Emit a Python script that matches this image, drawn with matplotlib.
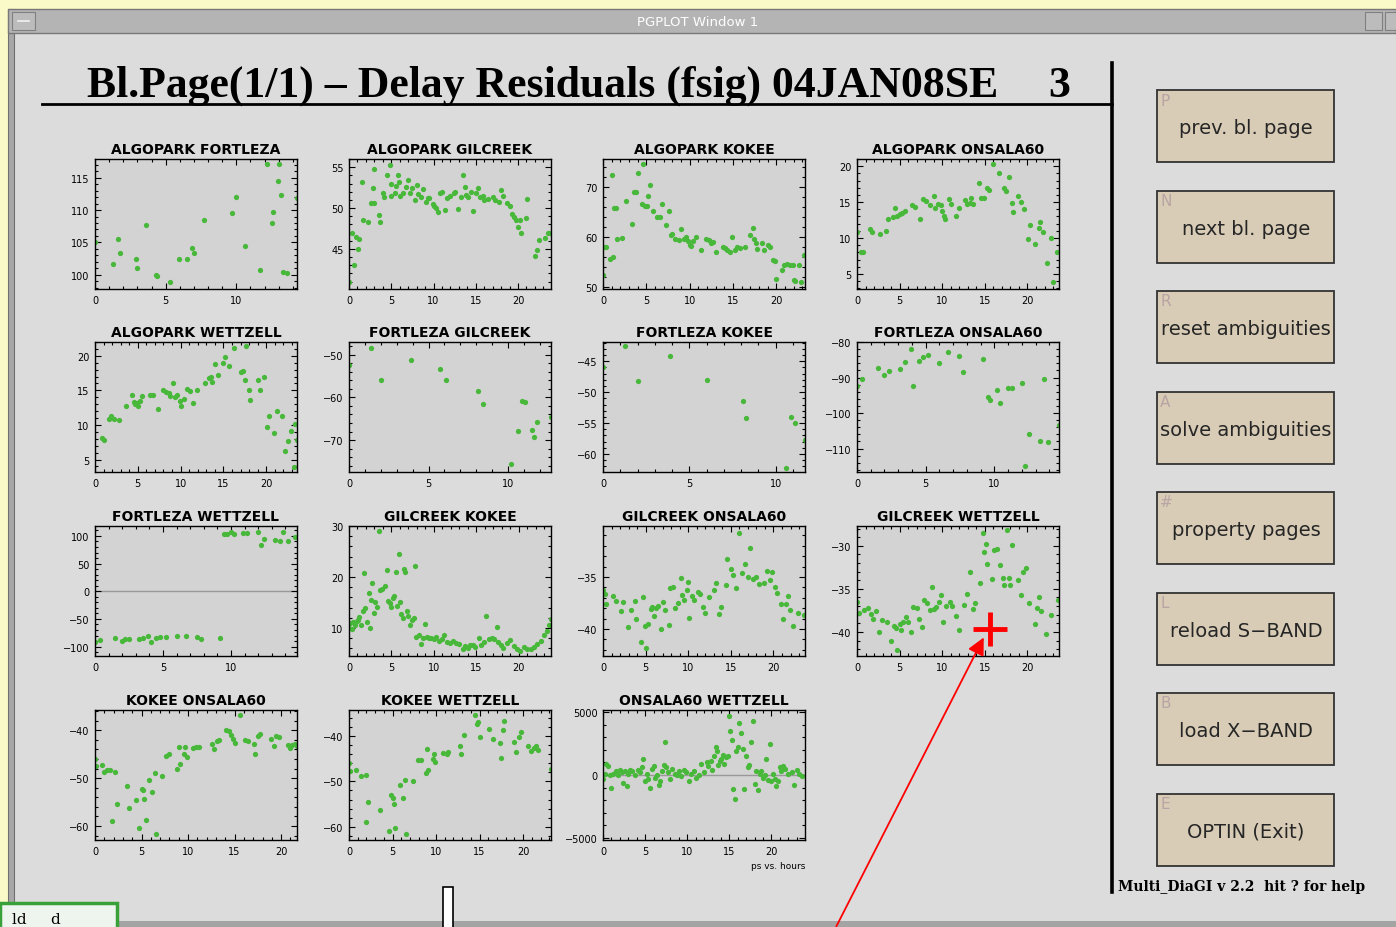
import matplotlib.pyplot as plt
from matplotlib.patches import Rectangle
from matplotlib.ticker import MultipleLocator

# ---- residuals per baseline: hours since session start, delay residual (ps) ----
algopark_fortleza_t = [0.0, 1.26, 1.6, 1.8, 2.9, 3.0, 3.6, 4.3, 4.4, 5.3, 5.95, 6.5, 6.9, 7.0,
                       7.7, 9.7, 9.98, 10.6, 11.7, 12.2, 12.5, 12.6, 12.95, 13.0, 13.2, 13.3, 13.6, 14.3]
algopark_fortleza_ps = [105.0, 101.7, 105.5, 103.3, 102.5, 101.1, 107.7, 99.95, 99.8, 98.9, 102.5, 102.5,
                        104.2, 103.3, 108.5, 109.6, 112.0, 104.5, 100.8, 117.2, 108.0, 109.7, 114.5,
                        117.2, 112.3, 100.5, 100.2, 111.8]

algopark_gilcreek_t = [0.0, 0.3, 0.6, 0.8, 1.1, 1.2, 1.5, 1.6, 2.2, 2.6, 2.8, 2.9, 3.0, 3.5, 3.7, 4.0,
                       4.1, 4.5, 4.9, 5.0, 5.0, 5.4, 5.6, 5.8, 5.9, 6.0, 6.4, 6.7, 7.0, 7.2, 7.5, 7.8,
                       8.0, 8.2, 8.5, 8.8, 9.1, 9.3, 9.5, 9.9, 10.1, 10.3, 10.5, 10.8, 11.0, 11.3, 11.6,
                       12.0, 12.4, 12.6, 12.9, 13.2, 13.5, 13.7, 13.9, 14.1, 14.4, 14.7, 15.0, 15.3,
                       15.5, 15.8, 16.0, 16.4, 17.0, 17.3, 17.7, 18.0, 18.2, 18.7, 19.0, 19.3, 19.5,
                       19.7, 20.0, 20.2, 20.4, 20.9, 21.1, 22.0, 22.2, 22.5, 23.2, 23.6, 23.8]
algopark_gilcreek_ps = [41.0, 47.0, 43.0, 46.5, 45.0, 46.2, 53.2, 48.5, 48.3, 50.6, 52.5, 54.8, 50.6,
                        49.2, 48.3, 51.8, 51.4, 54.1, 55.3, 51.5, 52.9, 51.8, 52.7, 54.1, 53.2, 51.5,
                        51.8, 52.6, 53.4, 51.9, 52.4, 51.0, 52.8, 51.7, 51.3, 52.3, 50.8, 51.2, 51.2,
                        50.5, 50.2, 50.0, 49.5, 51.8, 52.0, 49.8, 51.2, 51.5, 51.8, 52.0, 49.9, 51.4,
                        54.0, 52.6, 51.6, 51.3, 52.0, 49.7, 51.8, 52.5, 51.3, 51.5, 51.0, 51.1, 51.3,
                        51.0, 50.8, 52.2, 51.5, 50.6, 50.3, 49.3, 48.9, 48.5, 47.7, 48.6, 47.0, 48.8,
                        51.1, 44.1, 44.9, 46.1, 46.3, 46.9, 47.0]

algopark_kokee_t = [0.0, 0.2, 0.4, 0.8, 1.0, 1.1, 1.3, 1.5, 1.6, 2.2, 2.6, 3.3, 3.6, 3.8, 4.0, 4.5,
                    4.6, 4.8, 5.1, 5.2, 5.4, 5.8, 6.2, 6.6, 6.8, 7.3, 7.6, 7.8, 8.0, 8.3, 8.8, 9.0,
                    9.3, 9.6, 9.8, 10.0, 10.2, 10.4, 10.7, 11.3, 11.9, 12.2, 12.5, 12.7, 13.0, 13.8,
                    14.1, 14.3, 14.6, 14.9, 15.2, 15.5, 15.8, 16.4, 17.0, 17.3, 17.4, 17.6, 17.8,
                    18.3, 18.6, 19.0, 19.3, 19.6, 19.8, 20.0, 20.6, 20.9, 21.2, 21.6, 21.9, 22.0,
                    22.2, 22.6, 22.8, 23.2]
algopark_kokee_ps = [52.5, 58.0, 58.0, 55.7, 72.4, 56.0, 65.8, 65.8, 59.7, 59.8, 67.3, 62.6, 69.1,
                     69.0, 72.9, 66.7, 74.6, 66.2, 66.3, 68.3, 70.5, 65.2, 64.1, 64.1, 66.6, 62.5,
                     65.3, 60.5, 60.7, 59.6, 59.5, 61.6, 59.6, 60.0, 59.2, 58.5, 58.3, 59.2, 60.0,
                     57.5, 59.6, 59.4, 58.8, 59.1, 57.0, 58.1, 57.9, 57.4, 57.0, 60.0, 57.5, 58.0,
                     57.9, 58.1, 60.5, 61.8, 59.6, 58.9, 57.6, 58.8, 57.5, 58.4, 58.1, 55.5, 55.3,
                     51.7, 53.5, 54.5, 54.6, 54.5, 54.5, 51.5, 51.2, 54.4, 51.0, 56.5]

algopark_onsala60_t = [0.0, 0.5, 0.7, 1.5, 1.8, 2.7, 3.4, 3.6, 4.2, 4.4, 4.7, 5.0, 5.3, 5.6, 6.5,
                       6.8, 7.4, 7.8, 8.1, 8.6, 9.0, 9.1, 9.5, 9.8, 10.0, 10.2, 10.3, 10.8, 11.0,
                       11.6, 12.0, 12.7, 12.9, 13.2, 13.4, 13.6, 14.3, 14.6, 14.9, 15.2, 15.5, 15.9,
                       16.7, 17.2, 17.5, 17.8, 18.2, 18.3, 18.9, 19.2, 19.6, 20.1, 20.3, 20.9, 21.3,
                       21.5, 21.8, 22.3, 22.8, 23.0, 23.5]
algopark_onsala60_ps = [10.8, 8.1, 8.1, 11.2, 10.9, 10.5, 11.0, 12.6, 12.9, 14.2, 13.1, 13.3, 13.5,
                        13.8, 14.6, 14.3, 12.7, 15.4, 15.2, 14.6, 15.9, 14.2, 14.8, 14.6, 13.7, 13.0,
                        12.7, 15.4, 14.8, 13.1, 14.2, 15.3, 14.7, 14.9, 15.6, 14.7, 17.7, 15.6, 15.6,
                        17.0, 16.7, 20.3, 19.1, 17.0, 16.5, 18.5, 14.9, 13.6, 15.9, 15.0, 14.1, 9.9,
                        11.8, 9.1, 11.4, 12.2, 10.9, 6.5, 10.0, 3.9, 8.1]

algopark_wettzell_t = [0.8, 1.0, 1.6, 1.9, 2.2, 2.8, 3.6, 4.3, 4.5, 4.7, 4.9, 5.0, 5.2, 5.5, 6.4,
                       6.8, 7.4, 8.0, 8.3, 8.6, 8.8, 9.1, 9.3, 9.6, 9.9, 10.1, 10.4, 10.8, 11.1,
                       11.5, 11.9, 12.8, 13.3, 13.5, 13.7, 14.0, 14.4, 14.9, 15.2, 15.6, 16.2, 17.0,
                       17.3, 17.5, 17.6, 18.0, 18.1, 19.1, 19.3, 19.8, 20.1, 20.3, 20.9, 21.3, 21.8,
                       22.2, 22.5, 22.9, 23.2, 23.4, 23.6]
algopark_wettzell_ps = [8.1, 7.8, 10.8, 11.3, 10.8, 10.7, 12.8, 14.4, 13.3, 13.0, 13.2, 12.7, 13.5,
                        14.2, 14.3, 14.4, 12.3, 15.1, 14.8, 14.6, 14.2, 16.0, 14.0, 14.4, 13.4, 12.7,
                        13.7, 15.2, 14.9, 13.2, 15.1, 16.0, 16.8, 17.0, 16.2, 18.8, 17.2, 19.0, 19.8,
                        18.6, 21.2, 17.6, 17.8, 16.5, 21.4, 15.0, 13.6, 16.5, 15.0, 17.0, 9.7, 11.3,
                        8.8, 12.0, 11.3, 6.2, 7.7, 9.2, 3.9, 10.1, 7.9]

fortleza_gilcreek_t = [0.0, 1.4, 2.0, 3.9, 5.7, 6.1, 8.1, 8.4, 10.2, 10.6, 10.9, 11.05, 11.5, 11.6,
                       11.8, 12.7]
fortleza_gilcreek_ps = [-52.5, -48.3, -55.8, -51.2, -53.3, -56.0, -58.6, -61.5, -75.6, -67.9, -60.8,
                        -61.0, -67.7, -69.3, -65.8, -64.6]

fortleza_kokee_t = [0.0, 1.3, 2.0, 3.9, 6.0, 8.1, 8.3, 10.6, 10.9, 11.1, 11.7]
fortleza_kokee_ps = [-46.0, -42.5, -48.2, -44.2, -48.0, -51.5, -54.1, -62.2, -54.0, -55.0, -57.8]

fortleza_onsala60_t = [0.0, 0.4, 1.5, 2.0, 2.3, 3.1, 3.5, 3.9, 4.1, 4.5, 4.8, 5.2, 6.0, 6.6, 7.4,
                       7.7, 9.2, 9.5, 9.7, 10.2, 10.4, 11.0, 11.3, 12.0, 12.2, 12.5, 13.3, 13.6,
                       13.9, 14.7]
fortleza_onsala60_ps = [-92.3, -90.3, -87.2, -89.4, -88.2, -87.6, -85.5, -82.0, -92.3, -85.3, -84.1,
                        -83.8, -85.9, -82.9, -83.9, -88.5, -84.7, -95.5, -96.2, -93.6, -97.2, -92.9,
                        -92.9, -91.6, -114.9, -106.0, -107.8, -90.5, -108.2, -103.5]

fortleza_wettzell_t = [0.0, 0.4, 1.5, 2.0, 2.2, 2.5, 3.2, 3.5, 3.9, 4.1, 4.5, 4.8, 5.2, 6.0, 6.7,
                       7.5, 7.8, 9.2, 9.5, 9.7, 10.0, 10.2, 10.9, 11.2, 12.0, 12.2, 12.4, 13.2, 13.6,
                       13.8, 14.2, 14.7]
fortleza_wettzell_ps = [-91, -88, -85, -90, -87, -86, -87, -84, -80, -92, -84, -82, -82, -80, -80,
                        -82, -87, -84, 104, 104, 108, 103, 106, 106, 107, 84, 95, 92, 91, 108, 90, 99]

gilcreek_kokee_t = [0.0, 0.1, 0.3, 0.5, 0.7, 0.9, 1.1, 1.2, 1.4, 1.6, 1.8, 1.9, 2.1, 2.3, 2.5, 2.6,
                    2.7, 2.9, 3.1, 3.3, 3.5, 3.7, 3.9, 4.2, 4.5, 4.6, 4.8, 4.9, 5.2, 5.3, 5.5, 5.7,
                    5.9, 6.0, 6.1, 6.4, 6.5, 6.6, 6.8, 7.0, 7.2, 7.4, 7.6, 7.8, 7.9, 8.2, 8.5, 8.7,
                    9.0, 9.2, 9.4, 9.7, 10.0, 10.3, 10.6, 10.9, 11.2, 11.6, 11.9, 12.2, 12.6, 13.0,
                    13.4, 13.7, 14.0, 14.3, 14.6, 14.9, 15.3, 15.6, 15.9, 16.2, 16.5, 16.8, 17.1,
                    17.4, 17.6, 17.9, 18.2, 18.6, 19.0, 19.4, 19.8, 20.2, 20.6, 21.0, 21.4, 21.8,
                    22.2, 22.6, 23.0, 23.3, 23.6, 23.8]
gilcreek_kokee_ps = [10.0, 11.0, 9.8, 11.2, 10.5, 11.3, 11.5, 12.1, 10.6, 13.4, 20.7, 14.0, 11.2, 16.9,
                     10.0, 15.4, 18.9, 12.9, 15.1, 14.2, 29.0, 17.4, 17.6, 18.3, 21.3, 15.3, 14.9,
                     14.2, 15.9, 16.3, 21.0, 14.3, 24.6, 15.1, 12.7, 12.0, 21.5, 20.9, 13.3, 12.3,
                     10.5, 11.5, 12.0, 22.2, 8.2, 8.6, 6.9, 8.0, 10.8, 8.3, 8.0, 8.1, 7.8, 8.3, 7.5,
                     7.9, 8.6, 7.3, 7.0, 7.5, 7.0, 6.8, 5.8, 6.5, 6.0, 6.6, 6.7, 6.3, 8.0, 6.6, 7.2,
                     12.4, 7.8, 8.1, 7.9, 10.2, 7.2, 6.7, 6.0, 7.0, 7.6, 6.5, 5.8, 5.4, 6.2, 5.9,
                     5.8, 6.3, 6.8, 7.5, 8.6, 9.5, 10.5, 11.7]

gilcreek_onsala60_t = [0.0, 0.2, 0.3, 1.2, 1.5, 2.1, 2.3, 2.9, 3.3, 3.8, 3.9, 4.5, 4.7, 4.9, 5.0,
                       5.3, 5.6, 5.8, 6.0, 6.2, 6.5, 6.8, 7.0, 7.3, 7.7, 7.9, 8.2, 8.5, 8.8, 9.1,
                       9.3, 9.5, 9.8, 10.0, 10.1, 10.4, 10.7, 11.1, 11.4, 11.7, 12.0, 12.4, 13.0,
                       13.3, 13.6, 13.9, 14.4, 14.6, 15.0, 15.3, 15.6, 16.0, 16.3, 16.7, 17.0, 17.3,
                       17.6, 17.9, 18.3, 18.9, 19.2, 19.6, 19.8, 20.2, 20.4, 20.9, 21.1, 21.5, 21.7,
                       21.9, 22.3, 22.9, 23.6]
gilcreek_onsala60_ps = [-36.3, -36.6, -37.6, -36.8, -37.3, -38.3, -37.4, -39.8, -38.2, -37.3, -39.0,
                        -41.3, -36.9, -39.7, -41.8, -39.5, -38.1, -37.9, -38.8, -38.0, -37.8, -40.0,
                        -37.4, -38.2, -39.6, -36.1, -36.0, -38.0, -37.5, -35.1, -36.7, -37.2, -36.3,
                        -35.5, -38.9, -36.8, -37.2, -36.4, -36.6, -37.9, -38.5, -36.9, -36.3, -35.6,
                        -38.6, -37.9, -35.8, -33.3, -34.2, -34.8, -36.1, -30.8, -34.6, -33.8, -35.0,
                        -32.2, -35.2, -35.0, -35.7, -35.6, -34.4, -35.3, -34.5, -36.0, -36.5, -37.6,
                        -39.0, -37.6, -36.8, -38.2, -39.7, -38.5, -38.7]

gilcreek_wettzell_t = [0.0, 0.2, 0.8, 1.3, 1.6, 1.9, 2.2, 2.6, 2.9, 3.5, 4.0, 4.3, 4.6, 4.7, 5.0,
                       5.2, 5.4, 5.7, 6.0, 6.3, 6.6, 7.0, 7.3, 7.6, 7.9, 8.2, 8.6, 8.8, 9.0, 9.3,
                       9.6, 9.9, 10.1, 10.4, 10.9, 11.1, 11.6, 12.0, 12.5, 12.9, 13.3, 13.6, 13.9,
                       14.4, 14.8, 14.9, 15.1, 15.3, 15.8, 16.1, 16.4, 16.8, 17.1, 17.3, 17.6, 17.8,
                       18.0, 18.2, 18.9, 19.2, 19.5, 19.8, 20.2, 20.9, 21.1, 21.4, 21.6, 22.2, 22.8,
                       23.6]
gilcreek_wettzell_ps = [-36.5, -37.8, -37.5, -37.2, -37.9, -38.5, -37.6, -40.0, -38.6, -38.9, -41.0,
                        -39.3, -39.6, -42.1, -39.1, -39.8, -38.9, -38.3, -38.9, -40.0, -37.1, -37.2,
                        -38.5, -39.4, -36.3, -36.6, -37.4, -34.8, -37.3, -37.1, -36.5, -35.7, -38.9,
                        -37.0, -36.5, -37.0, -38.1, -39.8, -36.9, -35.6, -33.0, -37.3, -36.7, -34.3,
                        -28.5, -30.7, -29.8, -32.1, -33.8, -30.5, -30.4, -32.2, -33.7, -34.5, -28.2,
                        -33.7, -34.6, -29.9, -34.0, -35.7, -33.0, -32.6, -36.7, -39.1, -37.2, -36.0,
                        -37.6, -40.3, -38.0, -36.3]

kokee_onsala60_t = [0.0, 0.1, 0.8, 1.0, 1.3, 1.6, 1.8, 2.2, 2.4, 3.4, 3.7, 4.4, 4.7, 5.0, 5.2, 5.3,
                    5.5, 5.8, 6.1, 6.4, 6.5, 7.2, 7.6, 7.9, 8.8, 9.0, 9.1, 9.6, 9.7, 9.9, 10.5,
                    10.9, 11.2, 12.6, 12.8, 13.1, 13.3, 14.1, 14.4, 14.6, 14.8, 15.0, 15.6, 16.1,
                    16.4, 17.1, 17.2, 17.5, 17.7, 18.9, 19.2, 19.4, 19.8, 20.7, 20.9, 21.2, 21.5,
                    21.7]
kokee_onsala60_ps = [-46.0, -47.5, -47.3, -48.8, -48.4, -48.3, -59.0, -48.8, -55.3, -51.6, -56.3,
                     -54.6, -60.5, -52.2, -52.4, -54.3, -58.8, -50.4, -52.8, -49.0, -61.6, -49.5,
                     -45.3, -44.9, -48.2, -43.6, -47.1, -44.9, -43.6, -45.6, -43.8, -43.6, -43.6,
                     -42.8, -44.0, -42.2, -42.0, -40.0, -40.2, -41.0, -41.8, -42.6, -36.9, -42.0,
                     -42.3, -42.8, -45.0, -41.3, -40.8, -41.8, -43.4, -41.2, -41.4, -43.0, -43.7,
                     -43.1, -42.8, -43.3]

kokee_wettzell_t = [0.0, 0.1, 0.8, 1.4, 1.9, 1.9, 2.2, 3.6, 4.6, 4.8, 5.0, 5.2, 5.3, 5.8, 6.2, 6.4,
                    6.5, 7.4, 7.9, 8.3, 8.9, 9.0, 9.1, 9.6, 9.8, 9.9, 10.8, 11.2, 11.4, 12.8, 12.9,
                    13.2, 14.5, 14.7, 14.8, 15.1, 16.1, 16.5, 17.3, 17.5, 17.7, 17.8, 18.9, 19.2,
                    19.5, 19.8, 20.6, 20.9, 21.3, 21.5, 21.7, 23.2]
kokee_wettzell_ps = [-46.0, -47.8, -47.6, -48.8, -48.6, -59.0, -54.6, -56.3, -61.0, -53.0, -53.6,
                     -54.9, -60.3, -50.7, -53.7, -49.6, -61.5, -50.0, -45.4, -45.4, -48.1, -42.9,
                     -47.6, -45.1, -44.0, -45.8, -43.8, -44.0, -43.6, -42.3, -43.9, -39.8, -35.5,
                     -37.3, -37.0, -40.2, -38.4, -40.6, -41.6, -44.9, -38.8, -36.7, -41.4, -43.5,
                     -40.2, -39.1, -42.3, -43.3, -42.6, -42.2, -43.0, -47.2]

onsala60_wettzell_t = [0.0, 0.2, 0.4, 0.6, 0.8, 1.0, 1.2, 1.5, 1.8, 2.0, 2.2, 2.4, 2.6, 2.8, 3.0,
                       3.2, 3.5, 3.8, 4.2, 4.4, 4.6, 4.8, 5.0, 5.2, 5.4, 5.6, 5.8, 6.0, 6.2, 6.4,
                       6.6, 6.8, 7.0, 7.2, 7.4, 7.5, 7.7, 8.0, 8.2, 8.5, 8.8, 9.0, 9.3, 9.6, 9.9,
                       10.2, 10.5, 10.8, 11.1, 11.4, 11.7, 12.0, 12.3, 12.5, 12.8, 13.0, 13.2, 13.4,
                       13.6, 13.7, 13.9, 14.0, 14.2, 14.4, 14.6, 14.8, 15.0, 15.1, 15.3, 15.5, 15.7,
                       15.8, 16.0, 16.2, 16.4, 16.6, 16.8, 17.0, 17.2, 17.4, 17.6, 17.8, 18.0, 18.2,
                       18.4, 18.6, 18.8, 19.0, 19.2, 19.4, 19.6, 19.8, 20.0, 20.2, 20.4, 20.6, 20.8,
                       21.0, 21.2, 21.4, 21.6, 22.0, 22.4, 22.7, 23.0, 23.3, 23.6]
onsala60_wettzell_ps = [-300, 100, 900, 700, 0, -1000, 100, 300, 0, 400, 200, -600, 300, -900, 100,
                        400, 300, 0, 400, 200, 600, 1300, -500, 100, -300, -1000, 500, 700, -200, 0,
                        -800, -500, 300, 800, 2600, 600, 200, -300, 500, 100, 0, 300, -100, 400, 200,
                        -500, 100, 300, -200, 0, 900, 200, 1000, 700, 1100, 400, 1500, 2200, 1900,
                        800, 1100, 1300, 1600, 900, 1400, 1500, 4700, 3500, 2800, -1100, -1900, 1900,
                        2200, 4100, 3300, 2100, -1100, 1500, 600, 800, 2600, 4300, -700, 300, -1200,
                        100, 300, -200, 0, 1300, -400, 2500, -500, 100, -300, -900, -500, 600, 300,
                        700, 500, 100, 200, -800, 400, 100, -100]

# (title, t, ps, xmax, ylim, y major step, zero line)
panels = [
    ("ALGOPARK FORTLEZA", algopark_fortleza_t, algopark_fortleza_ps, 14.3, (97.8, 117.9), 5, False),
    ("ALGOPARK GILCREEK", algopark_gilcreek_t, algopark_gilcreek_ps, 23.9, (40.1, 56.0), 5, False),
    ("ALGOPARK KOKEE", algopark_kokee_t, algopark_kokee_ps, 23.3, (49.6, 75.6), 10, False),
    ("ALGOPARK ONSALA60", algopark_onsala60_t, algopark_onsala60_ps, 23.7, (2.9, 21.0), 5, False),
    ("ALGOPARK WETTZELL", algopark_wettzell_t, algopark_wettzell_ps, 23.6, (3.2, 22.0), 5, False),
    ("FORTLEZA GILCREEK", fortleza_gilcreek_t, fortleza_gilcreek_ps, 12.7, (-77.5, -47.0), 10, False),
    ("FORTLEZA KOKEE", fortleza_kokee_t, fortleza_kokee_ps, 11.7, (-62.9, -41.9), 5, False),
    ("FORTLEZA ONSALA60", fortleza_onsala60_t, fortleza_onsala60_ps, 14.7, (-116.6, -80.0), 10, False),
    ("FORTLEZA WETTZELL", fortleza_wettzell_t, fortleza_wettzell_ps, 14.85, (-117, 118), 50, True),
    ("GILCREEK KOKEE", gilcreek_kokee_t, gilcreek_kokee_ps, 23.8, (4.5, 30.0), 10, False),
    ("GILCREEK ONSALA60", gilcreek_onsala60_t, gilcreek_onsala60_ps, 23.7, (-42.6, -30.1), 5, False),
    ("GILCREEK WETTZELL", gilcreek_wettzell_t, gilcreek_wettzell_ps, 23.7, (-42.8, -27.7), 5, False),
    ("KOKEE ONSALA60", kokee_onsala60_t, kokee_onsala60_ps, 21.7, (-62.9, -35.8), 10, False),
    ("KOKEE WETTZELL", kokee_wettzell_t, kokee_wettzell_ps, 23.2, (-62.9, -34.3), 10, False),
    ("ONSALA60 WETTZELL", onsala60_wettzell_t, onsala60_wettzell_ps, 24.0, (-5160, 5160), 5000, True),
]

button_keys = ["P", "N", "R", "A", "#", "L", "B", "E"]
button_labels = ["prev. bl. page", "next bl. page", "reset ambiguities", "solve ambiguities",
                 "property pages", "reload S\u2212BAND", "load X\u2212BAND", "OPTIN (Exit)"]

W, H = 1396, 928
PAGE = "#dcdcdc"
DOT = "#48b83a"

fig = plt.figure(figsize=(W / 100, H / 100), dpi=100)
fig.patch.set_facecolor(PAGE)


def px_axes(x0, y0, x1, y1):
    return fig.add_axes([x0 / W, 1 - y1 / H, (x1 - x0) / W, (y1 - y0) / H])


# window frame, drawn in pixel coordinates
bg = fig.add_axes([0, 0, 1, 1])
bg.set_xlim(0, W)
bg.set_ylim(H, 0)
bg.axis("off")
bg.add_patch(Rectangle((0, 0), W, 10, fc="#fafac8", ec="none"))
bg.add_patch(Rectangle((0, 0), 8, H, fc="#fafac8", ec="none"))
bg.add_patch(Rectangle((8, 10), 6, 895, fc="#a8a8a8", ec="#707070", lw=0.8))
bg.add_patch(Rectangle((8, 10), W - 8, 24, fc="#b4b4b4", ec="#787878", lw=1))
bg.add_patch(Rectangle((12, 13), 23, 18, fc="#bcbcbc", ec="#808080", lw=0.8))
bg.plot([18, 29], [22, 22], color="#f0f0f0", lw=1.2)
bg.add_patch(Rectangle((1365, 13), 17, 18, fc="#bcbcbc", ec="#808080", lw=0.8))
bg.add_patch(Rectangle((1385, 13), 14, 18, fc="#bcbcbc", ec="#808080", lw=0.8))
bg.text(698, 22, "PGPLOT Window 1", color="white", ha="center", va="center",
        fontsize=9.5, family="DejaVu Sans")
bg.add_patch(Rectangle((117, 922), W - 117, 8, fc="#a4a4a4", ec="none"))

# page title, rule and divider
bg.text(87, 86, "Bl.Page(1/1) \u2013 Delay Residuals (fsig) 04JAN08SE", ha="left", va="center",
        fontsize=31.5, weight="bold", family="Liberation Serif")
bg.text(1059, 86, "3", ha="center", va="center", fontsize=31.5, weight="bold", family="Liberation Serif")
bg.plot([42, 1112], [104.5, 104.5], color="black", lw=2)
bg.plot([1112, 1112], [64, 893], color="black", lw=2.6)
bg.text(1118, 887, "Multi_DiaGI v 2.2  hit ? for help", ha="left", va="center",
        fontsize=10, weight="bold", family="DejaVu Serif")

# menu buttons
for i, (key, label) in enumerate(zip(button_keys, button_labels)):
    top = 91 + i * 100.5
    bg.add_patch(Rectangle((1157, top), 177, 72, fc="#d8ccb6", ec="#333333", lw=1.3))
    bg.text(1160, top + 10, key, color="#b8a4a4", fontsize=11, ha="left", va="center",
            family="DejaVu Sans")
    bg.text(1246, top + 38, label, color="#262626", fontsize=14, ha="center", va="center",
            family="DejaVu Sans")

# residual panels, 4 per row
col_left = [95, 349, 603, 857]
row_top = [160, 343, 527, 711]
for k, (title, t, ps, xmax, ylim, ystep, zero) in enumerate(panels):
    r, c = divmod(k, 4)
    x0, y0 = col_left[c], row_top[r]
    ax = px_axes(x0, y0, x0 + 202, y0 + 130)
    ax.set_facecolor("#d3d3d3")
    if zero:
        ax.axhline(0, color="#999999", lw=1, zorder=1)
    ax.plot(t, ps, "o", color=DOT, ms=3.8, mec="none", zorder=2)
    ax.set_xlim(0, xmax)
    ax.set_ylim(*ylim)
    ax.xaxis.set_major_locator(MultipleLocator(5))
    ax.xaxis.set_minor_locator(MultipleLocator(1))
    ax.yaxis.set_major_locator(MultipleLocator(ystep))
    ax.yaxis.set_minor_locator(MultipleLocator(ystep / 5))
    ax.tick_params(which="both", direction="in", top=True, right=True, width=0.8,
                   labelsize=7, pad=4, colors="black")
    ax.tick_params(which="major", length=4)
    ax.tick_params(which="minor", length=2)
    for lab in ax.get_xticklabels() + ax.get_yticklabels():
        lab.set_family("DejaVu Sans")
    for s in ax.spines.values():
        s.set_linewidth(1)
    ax.set_title(title, fontsize=10, weight="bold", pad=4, family="DejaVu Sans")
    if k == len(panels) - 1:
        ax.text(1.0, -0.16, "ps vs. hours", transform=ax.transAxes, ha="right", va="top",
                fontsize=6.5, family="DejaVu Sans")

# cursor and pointer drawn over everything
ov = fig.add_axes([0, 0, 1, 1])
ov.set_xlim(0, W)
ov.set_ylim(H, 0)
ov.axis("off")
ov.add_patch(Rectangle((0, 904), 117, 30, fc="#eef4ee", ec="#3aa03a", lw=2.5, clip_on=False))
ov.text(12, 924, "ld     d", fontsize=11, ha="left", va="baseline", family="DejaVu Serif")
ov.add_patch(Rectangle((443, 888), 10, 45, fc="white", ec="black", lw=1.2))
ov.annotate("", xy=(985, 636), xytext=(835, 930),
            arrowprops=dict(arrowstyle="-|>", color="red", lw=1.3, mutation_scale=26))
ov.plot([973, 1007], [630, 630], color="red", lw=3.5, solid_capstyle="butt")
ov.plot([990, 990], [613, 647], color="red", lw=3.5, solid_capstyle="butt")

fig.savefig("out.png", dpi=100, facecolor=fig.get_facecolor())
